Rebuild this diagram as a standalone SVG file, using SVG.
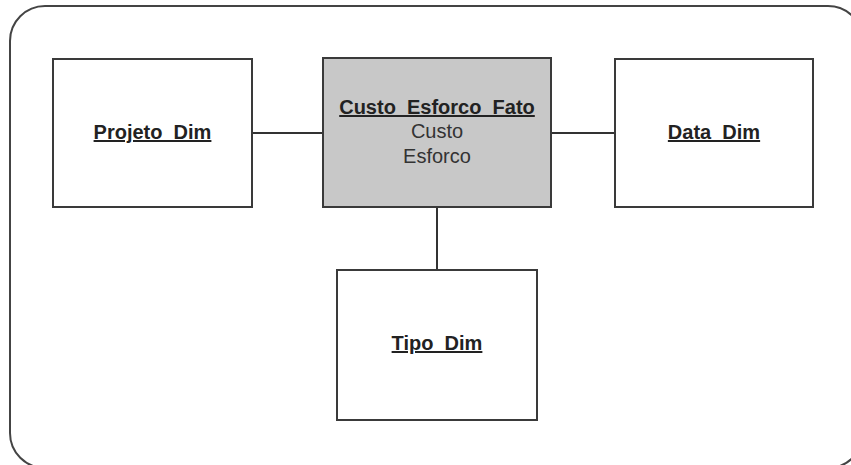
<svg xmlns="http://www.w3.org/2000/svg" width="851" height="465" viewBox="0 0 851 465">
<style>
.frame{fill:#ffffff;stroke:#444444;stroke-width:2}
.box{fill:#ffffff;stroke:#3a3a3a;stroke-width:2}
.fact{fill:#c8c8c8;stroke:#3a3a3a;stroke-width:2}
.conn{stroke:#333333;stroke-width:2;fill:none}
.title{font-family:"Liberation Sans",Arial,sans-serif;font-size:20px;font-weight:bold;fill:#222222;text-anchor:middle;text-decoration:underline}
.attr{font-family:"Liberation Sans",Arial,sans-serif;font-size:20px;fill:#333333;text-anchor:middle}
</style>
<rect x="0" y="0" width="851" height="465" fill="#ffffff"/>
<rect class="frame" x="10" y="6" width="853" height="462" rx="35" ry="35"/>
<g id="connectors">
<line class="conn" x1="252" y1="133" x2="323" y2="133"/>
<line class="conn" x1="551" y1="133" x2="615" y2="133"/>
<line class="conn" x1="437" y1="207" x2="437" y2="270"/>
</g>
<g id="Projeto_Dim">
<rect class="box" x="53" y="59" width="199" height="148"/>
<text class="title" x="152.5" y="139">Projeto_Dim</text>
</g>
<g id="Custo_Esforco_Fato">
<rect class="fact" x="323" y="58" width="228" height="149"/>
<text class="title" x="437" y="114">Custo_Esforco_Fato</text>
<text class="attr" x="437" y="138">Custo</text>
<text class="attr" x="437" y="163">Esforco</text>
</g>
<g id="Data_Dim">
<rect class="box" x="615" y="59" width="198" height="148"/>
<text class="title" x="714" y="139">Data_Dim</text>
</g>
<g id="Tipo_Dim">
<rect class="box" x="337" y="270" width="200" height="150"/>
<text class="title" x="437" y="350">Tipo_Dim</text>
</g>
</svg>
